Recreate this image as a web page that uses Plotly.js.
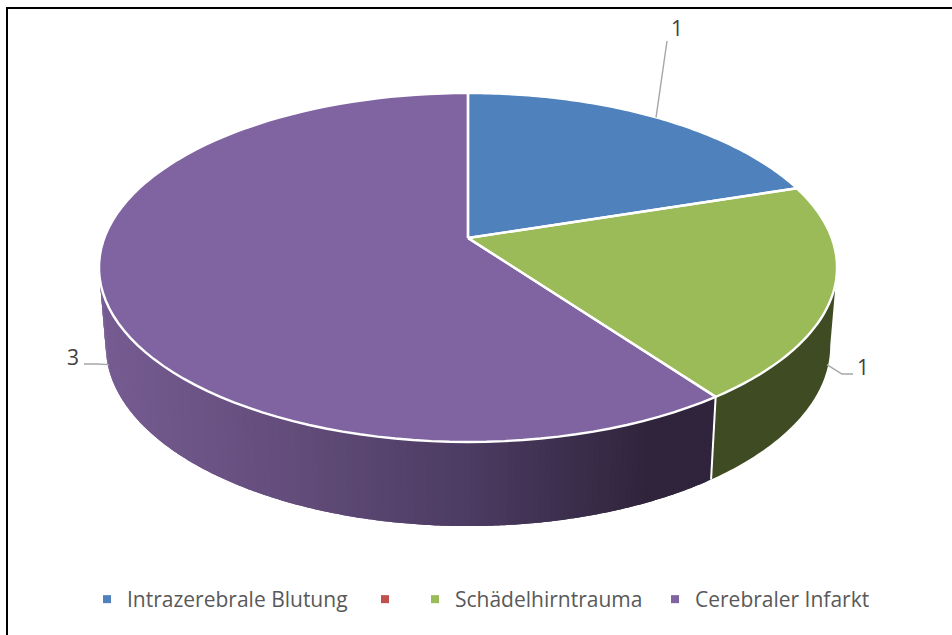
<!DOCTYPE html>
<html><head><meta charset="utf-8">
<script src="https://cdn.plot.ly/plotly-3.0.1.min.js"></script>
<style>html,body{margin:0;padding:0;background:#fff}</style></head>
<body><div id="chart" style="width:952px;height:635px"></div>
<script>
const categories = ["Intrazerebrale Blutung", " ", "Schädelhirntrauma", "Cerebraler Infarkt"];
const values = [1, 0, 1, 3];
const topColors = ["#4f81bd", "#c0504d", "#9bbb59", "#8064a2"];
const wallGreen = "#3f4b22";
const wallStops = [[100, [118, 92, 146]], [300, [98, 76, 122]], [480, [74, 58, 96]], [650, [47, 36, 59]], [720, [47, 36, 59]]];
const legendLeft = [87, 365, 415, 655];

// perspective projection of the pie's top and bottom discs onto the page
const topDisc = {cx: 468, cy: 238, A: 363.7, B: 169.5, k: 0.169};
const botDisc = {cx: 468, cy: 315.5, A: 357, B: 175, k: 0.169};
function proj(d, deg) {
  const t = deg * Math.PI / 180, u = Math.sin(t), v = Math.cos(t), w = 1 + d.k * v;
  return [d.cx + d.A * u / w, d.cy - d.B * v / w];
}
function arc(d, a, b, n) {
  const pts = [];
  for (let i = 0; i <= n; i++) pts.push(proj(d, a + (b - a) * i / n));
  return pts;
}
function wallColor(x) {
  for (let i = 0; i < wallStops.length - 1; i++) {
    const [x0, c0] = wallStops[i], [x1, c1] = wallStops[i + 1];
    if (x <= x1) {
      const f = Math.max(0, (x - x0) / (x1 - x0));
      return "rgb(" + c0.map((c, j) => Math.round(c + (c1[j] - c) * f)).join(",") + ")";
    }
  }
  return "rgb(47,36,59)";
}
const total = values.reduce((a, b) => a + b, 0);
const starts = [], ends = [];
values.reduce((acc, v, i) => { starts[i] = acc; ends[i] = acc + v / total * 360; return ends[i]; }, 0);
const mids = values.map((v, i) => (starts[i] + ends[i]) / 2);

const traces = [];
function poly(pts, fill, line, width) {
  traces.push({type: "scatter", mode: "lines", x: pts.map(p => p[0]), y: pts.map(p => p[1]),
    fill: fill ? "toself" : "none", fillcolor: fill || undefined,
    line: {color: line || "rgba(0,0,0,0)", width: width, simplify: false}, hoverinfo: "skip", showlegend: false});
}
// side wall, front part only: each strip runs on under the next one, so no seams show
function wall(a, b, n, colorFn) {
  const res = n === 1 ? 60 : 4;
  for (let i = 0; i < n; i++) {
    const step = (b - a) / n;
    const a0 = a + step * i, a1 = a + step * (i + 1), a2 = i === n - 1 ? a1 : a1 + step;
    const q = arc(topDisc, a0, a2, res).concat(arc(botDisc, a2, a0, res));
    const mid = (proj(topDisc, (a0 + a1) / 2)[0] + proj(botDisc, (a0 + a1) / 2)[0]) / 2;
    const c = colorFn(mid);
    poly(q.concat([q[0]]), c, null, 0);
  }
}
wall(99.7, ends[2], 1, () => wallGreen);
wall(ends[2], 260.3, 140, wallColor);
// white separator on the wall
poly([proj(topDisc, ends[2]), proj(botDisc, ends[2])], null, "#ffffff", 2);

// top face: fills first, then outlines
const slices = [];
values.forEach((v, i) => {
  if (!v) return;
  const pts = [[topDisc.cx, topDisc.cy]].concat(arc(topDisc, starts[i], ends[i], 90));
  pts.push([topDisc.cx, topDisc.cy]);
  slices.push(pts);
  poly(pts, topColors[i], null, 0);
});
slices.forEach(pts => poly(pts, null, "#ffffff", 2.4));

// leader lines
const wallMix = (deg, f) => {
  const p = proj(topDisc, deg), q = proj(botDisc, deg);
  return [p[0] + (q[0] - p[0]) * f, p[1] + (q[1] - p[1]) * f];
};
const grey = "#a6a6a6";
poly([proj(topDisc, mids[0]), [667, 41]], null, grey, 1.4);
poly([wallMix(mids[2], 0.9), [842, 374], [853, 374]], null, grey, 1.4);
poly([wallMix(mids[3], 0.9), [97, 364], [84, 364]], null, grey, 1.4);

// legend entries
const legendFont = {family: "Open Sans, sans-serif", size: 21, color: "#595959"};
const layoutLegends = {};
categories.forEach((name, i) => {
  const key = i === 0 ? "legend" : "legend" + (i + 1);
  traces.push({type: "scatter", mode: "markers", x: [null], y: [null], name: name, legend: key,
    marker: {symbol: "square", size: 8, color: topColors[i]}, hoverinfo: "skip", showlegend: true});
  layoutLegends[key] = {orientation: "h", x: legendLeft[i] / 952, xanchor: "left", y: 1 - 579 / 635, yanchor: "top",
    bgcolor: "rgba(0,0,0,0)", itemclick: false, itemdoubleclick: false, font: legendFont};
});

const labelFont = {family: "Open Sans, sans-serif", size: 21, color: "#404040"};
const layout = Object.assign({
  width: 952, height: 635, margin: {l: 0, r: 0, t: 0, b: 0},
  paper_bgcolor: "#ffffff", plot_bgcolor: "#ffffff",
  xaxis: {range: [0, 952], visible: false, fixedrange: true},
  yaxis: {range: [635, 0], visible: false, fixedrange: true},
  showlegend: true,
  shapes: [
    {type: "line", xref: "x", yref: "y", x0: 7, x1: 7, y0: 7, y1: 635, line: {color: "#000", width: 2}},
    {type: "line", xref: "x", yref: "y", x0: 6, x1: 952, y0: 8, y1: 8, line: {color: "#000", width: 2}}
  ],
  annotations: [
    {x: 677, y: 28, text: String(values[0])},
    {x: 863, y: 367, text: String(values[2])},
    {x: 73, y: 357, text: String(values[3])}
  ].map(a => Object.assign(a, {xref: "x", yref: "y", showarrow: false, font: labelFont, xanchor: "center", yanchor: "middle"}))
}, layoutLegends);
Plotly.newPlot("chart", traces, layout, {displayModeBar: false, staticPlot: true});
</script></body></html>
